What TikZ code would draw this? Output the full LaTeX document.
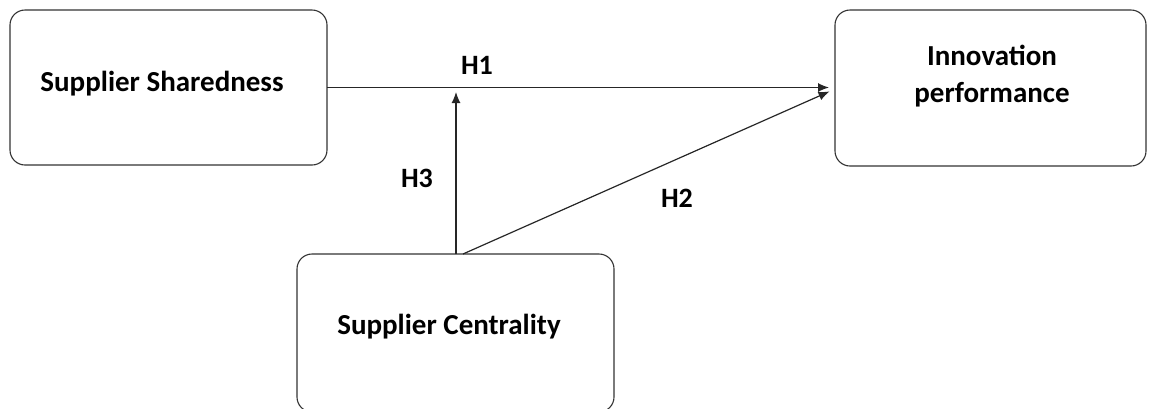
\documentclass[tikz,border=0pt]{standalone}
\usepackage{fontspec}
\setmainfont{Carlito}
\usetikzlibrary{arrows.meta}
\begin{document}
\begin{tikzpicture}[x=1pt,y=-1pt,
  box/.style={draw=black!80, line width=1.1pt, rounded corners=15pt,
    inner sep=0pt, outer sep=0pt, rectangle},
  lbl/.style={font=\bfseries\fontsize{29}{37}\selectfont, align=center},
  hyp/.style={font=\bfseries\fontsize{28}{34}\selectfont},
  link/.style={draw=black!85, line width=1.2pt, -{Latex[length=11pt,width=9pt]}}]
\useasboundingbox (0,0) rectangle (1149,408);
% variable boxes
\node[box, minimum width=317pt, minimum height=155pt] (ss) at (168.5,87.5) {};
\node[box, minimum width=311pt, minimum height=156pt] (ip) at (990.5,88) {};
\node[box, minimum width=317pt, minimum height=158pt] (sc) at (455.5,333) {};
% box texts
\node[lbl] (sstext) at (162,84) {Supplier Sharedness};
\node[lbl] (iptext) at (992,76) {Innovation\\performance};
\node[lbl] (sctext) at (449,327) {Supplier Centrality};
% moderating arrow ends on the H1 path
\coordinate (mod) at (456,92);
% connectors
\draw[link, shorten >=6pt] (ss.east) -- (ss.east -| ip.west);
\draw[link] ([xshift=0.5pt]sc.north) -- (mod);
\draw[link, shorten >=6pt] ([xshift=7.5pt]sc.north) -- ([yshift=-1pt]ip.west);
% hypothesis labels
\node[hyp] (h1) at (477,65) {H1};
\node[hyp] (h3) at (417,178) {H3};
\node[hyp] (h2) at (677,198) {H2};
\end{tikzpicture}
\end{document}
